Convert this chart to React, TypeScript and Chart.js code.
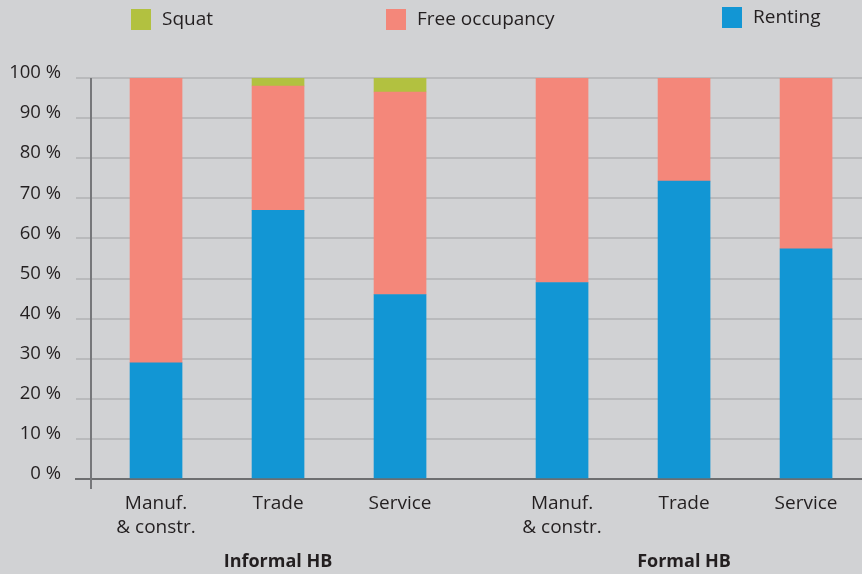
import React, { useEffect, useRef } from "react";
import { Chart, registerables } from "chart.js";

Chart.register(...registerables);

const groups = ["Informal HB", "Formal HB"];
const categories = [["Manuf.", "& constr."], ["Trade"], ["Service"]];
const renting = [29, 67, 46, 49, 74.3, 57.4];
const freeOccupancy = [71, 31, 50.5, 51, 25.7, 42.6];
const squat = [0, 2, 3.5, 0, 0, 0];
const yTicks = [0, 10, 20, 30, 40, 50, 60, 70, 80, 90, 100];

const GROUP_EXTRA = 0.328;
const FONT = "'Open Sans', 'Noto Sans', sans-serif";
const TEXT = "#231f20";
const BG = "#d1d2d4";

const slots: { x: number; label: string[]; group: number }[] = [];
groups.forEach((_, g) =>
  categories.forEach((c, i) => slots.push({ x: g * (categories.length + GROUP_EXTRA) + i, label: c, group: g }))
);

const pts = (arr: number[]) => arr.map((v, k) => ({ x: slots[k].x, y: v }));

export default function App() {
  const ref = useRef<HTMLCanvasElement | null>(null);
  useEffect(() => {
    if (!ref.current) return;
    const bgPlugin = {
      id: "bg",
      beforeDraw(chart: any) {
        const { ctx, width, height } = chart;
        ctx.save();
        ctx.fillStyle = BG;
        ctx.fillRect(0, 0, width, height);
        ctx.restore();
      },
    };
    const decoPlugin = {
      id: "deco",
      afterDraw(chart: any) {
        const { ctx, chartArea } = chart;
        const xs = chart.scales.x;
        ctx.save();
        ctx.strokeStyle = "#76777a";
        ctx.lineWidth = 2;
        ctx.beginPath();
        ctx.moveTo(chartArea.left + 15, chartArea.top);
        ctx.lineTo(chartArea.left + 15, chartArea.bottom + 10);
        ctx.stroke();
        ctx.fillStyle = TEXT;
        ctx.font = `bold 18px ${FONT}`;
        ctx.textAlign = "center";
        ctx.textBaseline = "middle";
        groups.forEach((g, gi) => {
          const s = slots.filter((sl) => sl.group === gi);
          const mid = (xs.getPixelForValue(s[0].x) + xs.getPixelForValue(s[s.length - 1].x)) / 2;
          ctx.fillText(g, mid, 562);
        });
        const legendPos = [
          { x: 131, y: 9 },
          { x: 386, y: 9 },
          { x: 722, y: 7 },
        ];
        const order = [2, 1, 0];
        ctx.font = `19px ${FONT}`;
        ctx.textAlign = "left";
        order.forEach((di, k) => {
          const ds = chart.data.datasets[di];
          const p = legendPos[k];
          ctx.fillStyle = ds.backgroundColor;
          ctx.fillRect(p.x, p.y, 20, 21);
          ctx.fillStyle = TEXT;
          ctx.fillText(ds.label, p.x + 31, p.y + 11);
        });
        ctx.restore();
      },
    };
    const xMin = -0.656;
    const chart = new Chart(ref.current, {
      type: "bar",
      data: {
        datasets: [
          { label: "Renting", data: pts(renting), backgroundColor: "#1296d4", barThickness: 52 },
          { label: "Free occupancy", data: pts(freeOccupancy), backgroundColor: "#f4877a", barThickness: 52 },
          { label: "Squat", data: pts(squat), backgroundColor: "#b2c140", barThickness: 52 },
        ],
      },
      options: {
        responsive: false,
        animation: false,
        devicePixelRatio: 1,
        layout: { padding: { top: 78, right: 0, left: 0, bottom: 0 } },
        plugins: { legend: { display: false }, tooltip: { enabled: false } },
        scales: {
          x: {
            type: "linear",
            stacked: true,
            offset: false,
            bounds: "ticks",
            min: xMin,
            max: xMin + 786 / 122,
            grid: { display: false, drawTicks: false, offset: false },
            border: { display: true, color: "#6d6e70", width: 2 },
            afterBuildTicks: (scale: any) => {
              scale.ticks = slots.map((s) => ({ value: s.x }));
            },
            afterFit: (scale: any) => {
              scale.height = 95;
            },
            ticks: {
              autoSkip: false,
              maxRotation: 0,
              minRotation: 0,
              padding: 13,
              color: TEXT,
              font: { family: FONT, size: 19, lineHeight: 1.25 },
              callback: (_v: any, i: number) => slots[i].label,
            },
          },
          y: {
            stacked: true,
            min: 0,
            max: 100,
            afterBuildTicks: (scale: any) => {
              scale.ticks = yTicks.map((v) => ({ value: v }));
            },
            afterFit: (scale: any) => {
              scale.width = 76;
            },
            grid: { color: "#b9babc", lineWidth: 2, drawTicks: false },
            border: { display: false },
            ticks: {
              padding: 15,
              labelOffset: -5,
              color: TEXT,
              font: { family: FONT, size: 18.5 },
              callback: (v: any) => `${v} %`,
            },
          },
        },
      },
      plugins: [bgPlugin, decoPlugin],
    } as any);
    return () => chart.destroy();
  }, []);
  return (
    <div style={{ position: "absolute", left: 0, top: 0, width: 862, height: 574, background: BG }}>
      <canvas ref={ref} width={862} height={574} style={{ display: "block" }} />
    </div>
  );
}
